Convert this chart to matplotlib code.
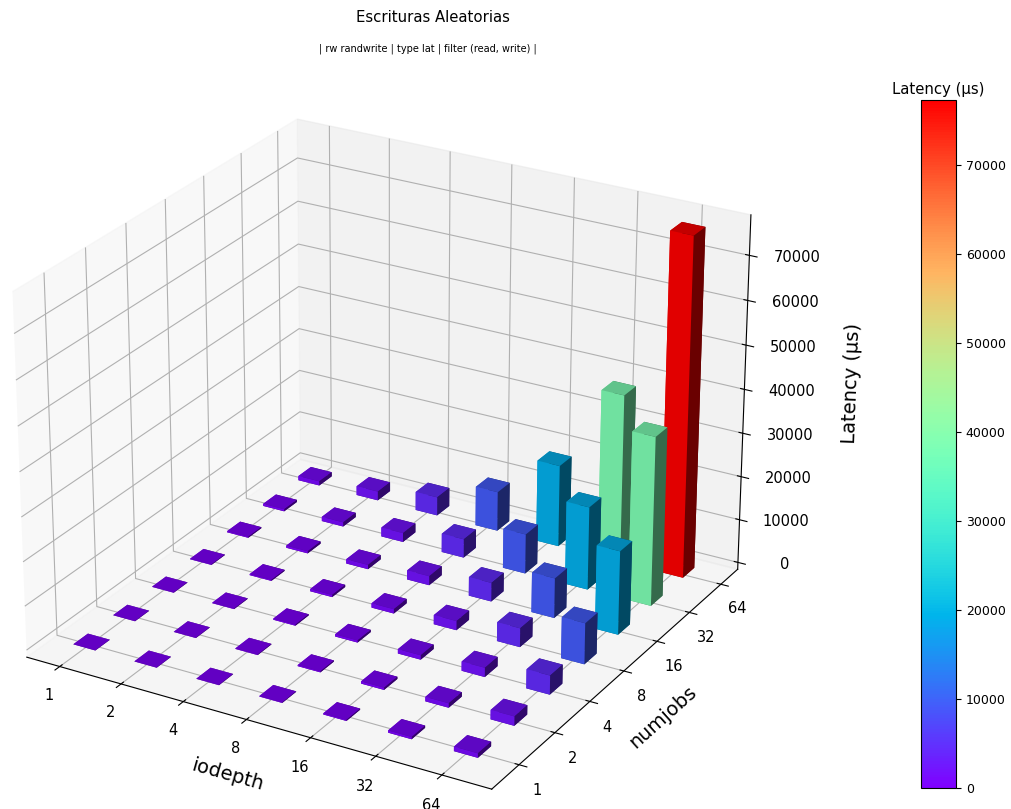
import numpy as np
import matplotlib
matplotlib.use('Agg')
import matplotlib.pyplot as plt
from matplotlib import cm
from matplotlib.colors import Normalize

iodepth = ['1', '2', '4', '8', '16', '32', '64']
numjobs = ['1', '2', '4', '8', '16', '32', '64']
# rows: numjobs, columns: iodepth
latency = [
    [40, 50, 70, 120, 250, 500, 1000],
    [50, 70, 120, 250, 500, 1000, 2100],
    [70, 120, 250, 500, 1000, 2100, 4300],
    [120, 250, 500, 1000, 2100, 4300, 9300],
    [250, 500, 1000, 2100, 4300, 9100, 19000],
    [500, 1000, 2100, 4300, 9100, 19000, 38500],
    [1000, 2100, 4300, 9100, 18800, 38500, 77300],
]

Z = np.array(latency, dtype=float)
n = len(iodepth)
xx, yy = np.meshgrid(np.arange(n), np.arange(n))
norm = Normalize(0, Z.max())
colors = plt.get_cmap('rainbow')(norm(Z.ravel()))

fig = plt.figure(figsize=(10.12, 8.09), dpi=100)
ax = fig.add_axes([-0.0335, -0.062, 0.814, 1.019], projection='3d')
ax.view_init(elev=25.2, azim=-60)
w = 0.36
dx, dy = 0.10, -0.10
ax.bar3d(xx.ravel() - w / 2 + dx, yy.ravel() - w / 2 + dy, np.zeros(n * n), w, w, Z.ravel(), color=colors, shade=True)
ax.set_xticks(np.arange(n))
ax.set_xticklabels(iodepth, fontsize=10.5)
ax.set_yticks(np.arange(n))
ax.set_yticklabels(numjobs, fontsize=10.5)
ax.tick_params(axis='z', labelsize=10.5, pad=13)
ax.tick_params(axis='x', pad=3.5)
ax.set_xlabel('iodepth', fontsize=14, labelpad=7)
ax.set_ylabel('numjobs', fontsize=14, labelpad=7)
ax.set_zlabel('Latency (µs)', fontsize=14, labelpad=27)

fig.text(0.428, 0.978, 'Escrituras Aleatorias', ha='center', va='center', fontsize=10.7)
fig.text(0.423, 0.94, '| rw randwrite | type lat | filter (read, write) |', ha='center', va='center', fontsize=7)

cax = fig.add_axes([921 / 1012, 1 - 788 / 809, 35 / 1012, 688 / 809])
sm = cm.ScalarMappable(norm=norm, cmap='rainbow')
cb = fig.colorbar(sm, cax=cax)
cb.ax.tick_params(labelsize=9)
cax.set_title('Latency (µs)', fontsize=10.7, pad=4)
fig.savefig('out.png', dpi=100)
